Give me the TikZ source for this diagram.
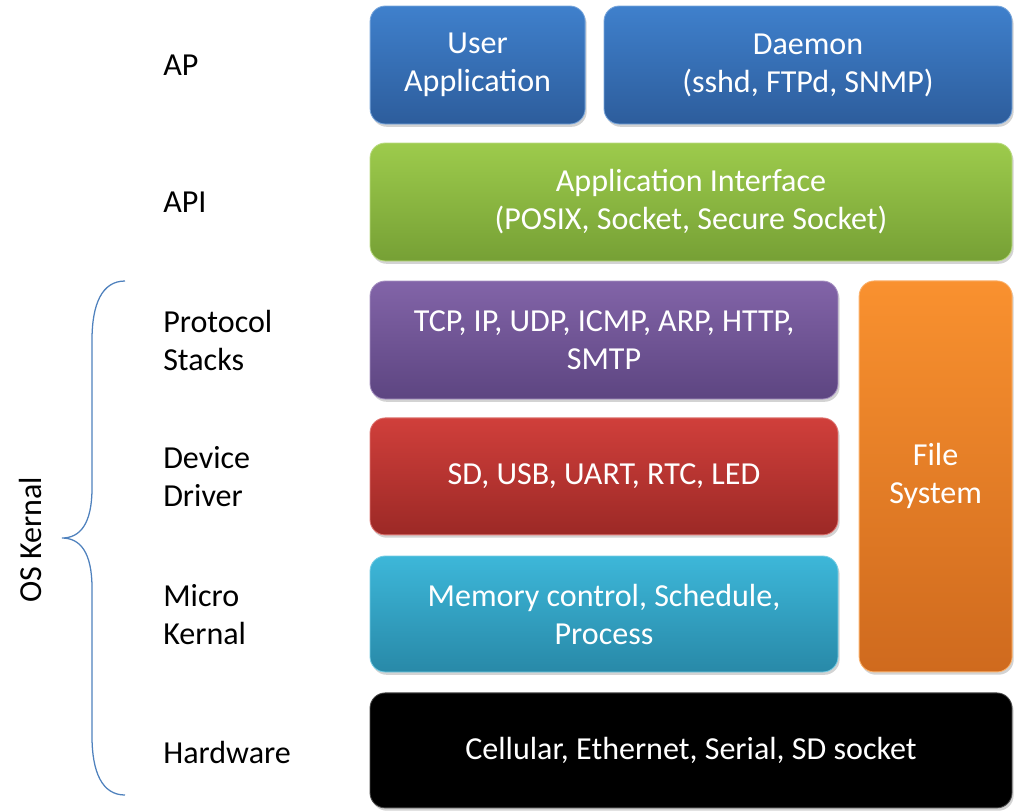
\documentclass[tikz,border=0pt]{standalone}
\usepackage{fontspec}
\setmainfont{Carlito}
\usetikzlibrary{shadows}

\definecolor{apTop}{HTML}{3F80CC}
\definecolor{apBot}{HTML}{2D5D9C}
\definecolor{apiTop}{HTML}{9DCB4C}
\definecolor{apiBot}{HTML}{76A035}
\definecolor{protoTop}{HTML}{8264A8}
\definecolor{protoBot}{HTML}{5D4581}
\definecolor{devTop}{HTML}{D03F3B}
\definecolor{devBot}{HTML}{9C2926}
\definecolor{microTop}{HTML}{3DB7D9}
\definecolor{microBot}{HTML}{2889A8}
\definecolor{fsTop}{HTML}{F9912F}
\definecolor{fsBot}{HTML}{CF6A1E}
\definecolor{braceBlue}{HTML}{4F81BD}

\begin{document}
\begin{tikzpicture}[
    layer/.style={rounded corners=0.38cm, text=white, align=center,
      font=\fontsize{22.8}{27}\selectfont, line width=0.6pt,
      drop shadow={shadow xshift=0.04cm, shadow yshift=-0.07cm, opacity=0.35}},
    label/.style={anchor=west, align=left, inner xsep=0pt, font=\fontsize{22.8}{27}\selectfont}
  ]
    \useasboundingbox (0,0) rectangle (25.35,-20.25);

    % ブロック
    \node[layer, draw=apTop!70!white, top color=apTop, bottom color=apBot,
      minimum width=5.375cm, minimum height=2.95cm] (user) at (11.94,-1.625) {User\\Application};
    \node[layer, draw=apTop!70!white, top color=apTop, bottom color=apBot,
      minimum width=10.2cm, minimum height=2.95cm] (daemon) at (20.2,-1.625) {Daemon\\(sshd, FTPd, SNMP)};
    \node[layer, draw=apiTop!70!white, top color=apiTop, bottom color=apiBot,
      minimum width=16.05cm, minimum height=2.95cm] (api) at (17.275,-5.05) {Application Interface\\(POSIX, Socket, Secure Socket)};
    \node[layer, draw=protoTop!70!white, top color=protoTop, bottom color=protoBot,
      minimum width=11.7cm, minimum height=2.95cm] (proto) at (15.1,-8.5) {TCP, IP, UDP, ICMP, ARP, HTTP,\\SMTP};
    \node[layer, draw=fsTop!70!white, top color=fsTop, bottom color=fsBot,
      minimum width=3.825cm, minimum height=9.775cm] (fs) at (23.39,-11.91) {File\\System};
    \node[layer, draw=devTop!70!white, top color=devTop, bottom color=devBot,
      minimum width=11.7cm, minimum height=2.925cm] (dev) at (15.1,-11.91) {SD, USB, UART, RTC, LED};
    \node[layer, draw=microTop!70!white, top color=microTop, bottom color=microBot,
      minimum width=11.7cm, minimum height=2.9cm] (micro) at (15.1,-15.35) {Memory control, Schedule,\\Process};
    \node[layer, draw=black!70, fill=black,
      minimum width=16.05cm, minimum height=2.875cm] (hw) at (17.275,-18.76) {Cellular, Ethernet, Serial, SD socket};

    % 層の名前
    \node[label] (lAP) at (4.075,-1.625) {AP};
    \node[label] (lAPI) at (4.075,-5.05) {API};
    \node[label] (lProto) at (4.075,-8.5) {Protocol\\Stacks};
    \node[label] (lDev) at (4.075,-11.925) {Device\\Driver};
    \node[label] (lMicro) at (4.075,-15.375) {Micro\\Kernal};
    \node[label] (lHw) at (4.075,-18.8) {Hardware};

    % 括弧
    \coordinate (bTop) at (3.125,-7.025);
    \coordinate (bTip) at (1.55,-13.45);
    \coordinate (bBot) at (3.125,-19.875);
    \draw[braceBlue, line width=0.9pt] (bTop) .. controls (2.55,-7.025) and (2.3,-7.6) .. (2.3,-8.5)
      -- (2.3,-12.2) .. controls (2.3,-13.1) and (2.0,-13.45) .. (bTip)
      .. controls (2.0,-13.45) and (2.3,-13.8) .. (2.3,-14.7)
      -- (2.3,-18.4) .. controls (2.3,-19.3) and (2.55,-19.875) .. (bBot);
    \node[rotate=90, font=\fontsize{22.8}{27}\selectfont] (kernal) at (0.75,-13.5) {OS Kernal};
\end{tikzpicture}
\end{document}
